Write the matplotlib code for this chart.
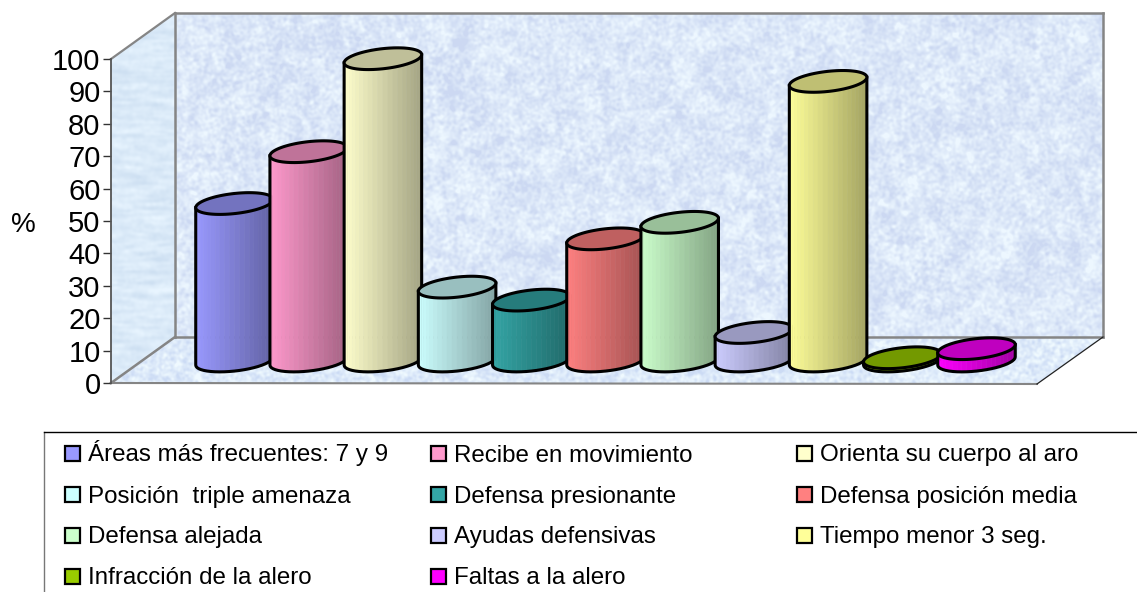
import numpy as np
import matplotlib
matplotlib.use('Agg')
import matplotlib.pyplot as plt
from matplotlib.patches import Polygon, Rectangle
from matplotlib.transforms import Affine2D

plt.rcParams['font.family'] = ['Liberation Sans', 'DejaVu Sans']

categorias = ['Áreas más frecuentes: 7 y 9', 'Recibe en movimiento', 'Orienta su cuerpo al aro',
              'Posición  triple amenaza', 'Defensa presionante', 'Defensa posición media',
              'Defensa alejada', 'Ayudas defensivas', 'Tiempo menor 3 seg.',
              'Infracción de la alero', 'Faltas a la alero']
valores = [48.6, 64.6, 93.3, 22.8, 18.8, 37.7, 42.8, 8.8, 86.3, 1, 3.8]
colores = ['#9999ff', '#ff99cc', '#ffffcc', '#ccffff', '#33a5a5', '#ff8080',
           '#ccffcc', '#ccccff', '#ffff99', '#99cc00', '#ff00ff']
ticks_y = list(range(0, 101, 10))

W, H = 1137, 592
px_x = 74.2   # pixels for one category
px_y = 3.24   # pixels for one percent

fig = plt.figure(figsize=(W / 100, H / 100), dpi=100)
ax = fig.add_axes([0, 0, 1, 1])
x_ini = -204 / px_x
ax.patch.set_alpha(0)

# pixel coords measured from the top left of the picture
px = Affine2D().scale(1, -1).translate(0, H)


def ruido(sx, sy, seed):
    # smooth mottling for the walls, no data in here
    yy, xx = np.mgrid[0:H, 0:W]
    r = np.sin(xx * 12.9898 + yy * 78.233 + seed) * 43758.5453
    r = r - np.floor(r)
    fy = np.fft.fftfreq(H)[:, None]
    fx = np.fft.fftfreq(W)[None, :]
    g = np.exp(-2 * np.pi ** 2 * ((fx * sx) ** 2 + (fy * sy) ** 2))
    s = np.fft.ifft2(np.fft.fft2(r) * g).real
    return (s - s.mean()) / s.std()


def textura(c1, c2, n):
    t = np.clip(0.5 + 0.22 * n, 0, 1)[..., None]
    return np.array(c1) * (1 - t) + np.array(c2) * t


n_fondo = ruido(1.3, 1.3, 1) * 0.8 + ruido(5, 5, 2) * 0.6
n_lado = ruido(6, 1.5, 3) * 0.7 + ruido(1.5, 1.5, 4) * 0.3
n_suelo = ruido(1.2, 1.2, 5) * 0.9 + ruido(5, 2, 6) * 0.4

paredes = [
    ([(175, 13), (1103, 13), (1103, 337), (175, 337)], n_fondo, (0.80, 0.85, 0.95), (0.93, 0.97, 1.0)),
    ([(111, 59), (175, 13), (175, 337), (111, 383)], n_lado, (0.81, 0.88, 0.95), (0.91, 0.96, 1.0)),
    ([(111, 383), (175, 337), (1103, 337), (1037, 384)], n_suelo, (0.80, 0.86, 0.96), (0.94, 0.98, 1.0)),
]
for esquinas, n, c1, c2 in paredes:
    im = ax.imshow(textura(c1, c2, n), extent=(0, W, H, 0), transform=px,
                   aspect='auto', zorder=0, interpolation='nearest')
    im.set_clip_path(Polygon(esquinas, transform=px))

ax.set_xlim(x_ini, x_ini + W / px_x)
ax.set_ylim(-(H - 383) / px_y, 383 / px_y)

gris = '#858585'
for a, b, lw, col in [((175, 13), (1103, 13), 1.8, gris), ((1103, 13), (1103, 337), 1.8, gris),
                      ((175, 13), (175, 337), 1.8, gris), ((175, 337), (1103, 337), 1.8, gris),
                      ((111, 59), (175, 13), 1.6, gris), ((111, 383), (175, 337), 1.8, gris),
                      ((111, 383), (1037, 384), 1.5, gris), ((1037, 384), (1103, 337), 0.9, '#222222')]:
    ax.plot([a[0], b[0]], [a[1], b[1]], color=col, lw=lw, transform=px, zorder=1, solid_capstyle='projecting')

# bars sit half way into the depth of the floor
plano = ax.transData + Affine2D().translate(30.5, 22)
a_el, b_el, phi = 39, 10, np.radians(6.5)
t0 = np.arctan2(-b_el * np.sin(phi), a_el * np.cos(phi))


def elipse(t):
    ex = a_el * np.cos(t) * np.cos(phi) - b_el * np.sin(t) * np.sin(phi)
    ey = a_el * np.cos(t) * np.sin(phi) + b_el * np.sin(t) * np.cos(phi)
    return ex / px_x, ey / px_y


def oscuro(c, f):
    return tuple(np.array(matplotlib.colors.to_rgb(c)) * f)


for i, (v, c) in enumerate(zip(valores, colores)):
    z = 3 + i
    t_borde = np.linspace(t0 - np.pi, t0, 25)
    ex, ey = elipse(t_borde)
    for k in range(len(t_borde) - 1):
        frac = (ex[k] + ex[k + 1]) / 2 / (2 * a_el / px_x) + 0.5
        caja = [(i + ex[k], ey[k]), (i + ex[k + 1], ey[k + 1]),
                (i + ex[k + 1], v + ey[k + 1]), (i + ex[k], v + ey[k])]
        col = oscuro(c, 1 - 0.36 * frac)
        ax.add_patch(Polygon(caja, closed=True, facecolor=col, edgecolor=col, lw=0.4, transform=plano, zorder=z))
    # outline of the body and the top
    ax.plot(np.r_[i + ex[0], i + ex, i + ex[-1]], np.r_[v + ey[0], ey, v + ey[-1]], color='black', lw=2.2,
            transform=plano, zorder=z, solid_joinstyle='round')
    t_tapa = np.linspace(0, 2 * np.pi, 90)
    tx, ty = elipse(t_tapa)
    ax.add_patch(Polygon(np.c_[i + tx, v + ty], closed=True, facecolor=oscuro(c, 0.75), edgecolor='black',
                         lw=2.2, transform=plano, zorder=z))

# value axis on the front left edge of the box
x_eje = x_ini + 111 / px_x
ax.spines['left'].set_position(('data', x_eje))
ax.spines['left'].set_bounds(0, 100)
ax.spines['left'].set_color('#555555')
ax.spines['left'].set_linewidth(1.3)
for lado in ['top', 'right', 'bottom']:
    ax.spines[lado].set_visible(False)
ax.set_xticks([])
ax.set_yticks(ticks_y)
ax.tick_params(axis='y', length=5.5, width=1.0, color='#333333', labelsize=21, pad=2)
ax.set_ylabel('%', rotation=0, fontsize=20, va='center', ha='center')
ax.yaxis.set_label_coords(23 / W, (H - 225) / H)

# legend box runs off the picture on the right and at the bottom
ax.plot([44, 44], [432, H], color='#777777', lw=1.0, transform=px, zorder=20)
ax.plot([44, W], [432, 432], color='black', lw=1.0, transform=px, zorder=20)
col_x = [65, 431, 797]
fila_y = [453, 494, 535, 576]
for i, (nombre, c) in enumerate(zip(categorias, colores)):
    x0, y0 = col_x[i % 3], fila_y[i // 3]
    ax.add_patch(Rectangle((x0, y0 - 7), 15, 15, facecolor=c, edgecolor='black', lw=1.6, transform=px, zorder=20))
    ax.text(x0 + 23, y0 + 8.5, nombre, fontsize=17.35, va='baseline', ha='left', color='black', transform=px, zorder=20)

fig.savefig('out.png', dpi=100)
